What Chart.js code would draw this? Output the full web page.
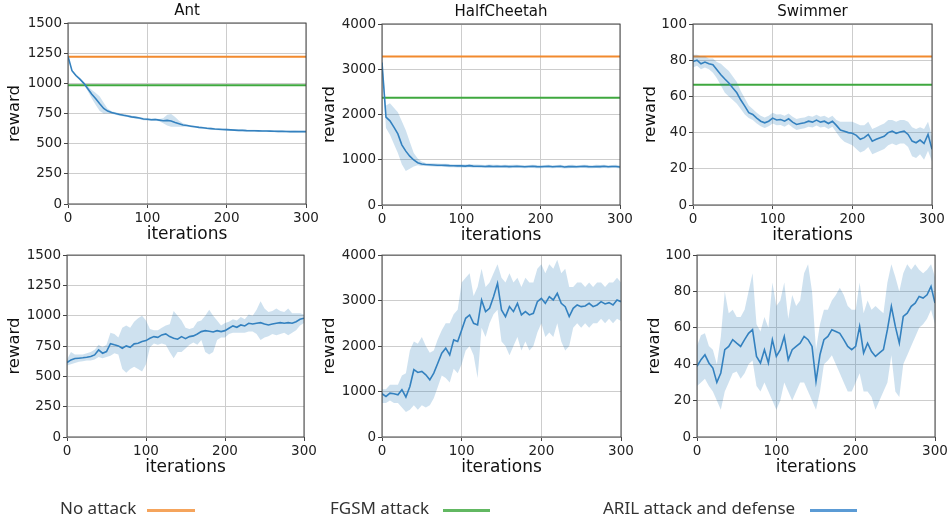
<!DOCTYPE html>
<html>
<head>
<meta charset="utf-8">
<script src="https://cdn.jsdelivr.net/npm/chart.js@4.4.1/dist/chart.umd.min.js"></script>
<style>
  body { margin: 0; background: #fff; width: 948px; height: 518px; overflow: hidden; position: relative; }
  .panel { position: absolute; }
  .legend-text { position: absolute; font-family: "Noto Sans", "Liberation Sans", sans-serif; font-size: 17px; color: #333; line-height: 20px; white-space: nowrap; }
  .legend-line { position: absolute; height: 3px; }
</style>
</head>
<body>
<div class="panel" id="p1"><canvas id="c1"></canvas></div>
<div class="panel" id="p2"><canvas id="c2"></canvas></div>
<div class="panel" id="p3"><canvas id="c3"></canvas></div>
<div class="panel" id="p4"><canvas id="c4"></canvas></div>
<div class="panel" id="p5"><canvas id="c5"></canvas></div>
<div class="panel" id="p6"><canvas id="c6"></canvas></div>

<span class="legend-text" style="left:60px;top:498px">No attack</span>
<div class="legend-line" style="left:147px;top:509px;width:48px;background:#f5a45c"></div>
<span class="legend-text" style="left:330px;top:498px">FGSM attack</span>
<div class="legend-line" style="left:443px;top:509px;width:47px;background:#62b862"></div>
<span class="legend-text" style="left:603px;top:498px">ARIL attack and defense</span>
<div class="legend-line" style="left:810px;top:509px;width:47px;background:#5b9bd5"></div>

<script>
// x positions shared by all series (every 5 iterations)
const iterations = [0,5,10,15,20,25,30,35,40,45,50,55,60,65,70,75,80,85,90,95,100,
  105,110,115,120,125,130,135,140,145,150,155,160,165,170,175,180,185,190,195,200,
  205,210,215,220,225,230,235,240,245,250,255,260,265,270,275,280,285,290,295,300];
const xTicks = [0, 100, 200, 300];

const envNames = ['Ant', 'HalfCheetah', 'Swimmer'];
const yMax = [1500, 4000, 100];
const yStep = [250, 1000, 20];
const noAttack = [1220, 3280, 82];
const fgsmAttack = [985, 2370, 66.5];

// top row: reward under ARIL attack
const antTopMean = [1225,1105,1065,1035,1000,955,910,872,830,792,770,758,750,742,735,730,722,718,712,705,702,698,700,695,690,693,688,675,665,655,650,645,640,635,632,628,625,622,620,618,616,614,612,610,610,608,607,607,606,605,605,604,603,602,602,601,600,601,600,600,600];
const antTopLow = [1215,1095,1055,1025,990,935,875,820,770,750,752,748,740,732,725,720,712,708,702,695,692,688,690,685,670,650,640,640,640,640,642,637,632,627,624,620,617,614,612,610,608,606,604,602,602,600,599,599,598,597,597,596,595,594,594,593,592,593,592,592,592];
const antTopHigh = [1235,1115,1075,1045,1010,975,945,920,890,840,790,768,760,752,745,740,732,728,722,715,712,708,710,705,710,740,745,720,690,670,658,653,648,643,640,636,633,630,628,626,624,622,620,618,618,616,615,615,614,613,613,612,611,610,610,609,608,609,608,608,608];

const hcTopMean = [3150,1940,1860,1720,1570,1330,1190,1080,995,935,905,895,890,885,880,878,875,870,868,865,865,860,870,860,858,855,850,858,852,855,850,855,848,852,855,850,845,850,855,848,845,850,855,845,850,855,840,848,852,845,850,855,848,845,852,848,855,845,850,852,840];
const hcTopLow = [3050,1700,1550,1350,1150,900,750,800,850,880,860,860,855,850,845,843,840,835,833,830,830,825,835,825,823,820,815,823,817,820,815,820,813,817,820,815,810,815,820,813,810,815,820,810,815,820,805,813,817,810,815,820,813,810,817,813,820,810,815,817,805];
const hcTopHigh = [3250,2200,2250,2150,2050,1850,1650,1400,1150,1030,960,930,925,920,915,913,910,905,903,900,900,895,905,895,893,890,885,893,887,890,885,890,883,887,890,885,880,885,890,883,880,885,890,880,885,890,875,883,887,880,885,890,883,880,887,883,890,880,885,887,875];

const swTopMean = [79.3,80,78,79,78,77.5,74.7,72,69.6,67.4,64.6,62,58,54.6,51,50,48,46.3,45.4,46.3,48,47,47.2,46.3,47.6,45.8,44.5,45,45.4,46.3,45.8,46.9,45.8,46.3,45,46.3,44,41.4,40.8,40,39.6,38.5,36.3,37.2,39,35.3,36.3,37.2,38,40,40.8,39.6,40.3,40.8,39,35.3,34.4,35.9,34,39,30.8];
const swTopLow = [76,77,75,76,75,73,70,66,62,60,58,56,53,50,48,47,45,43.5,42.5,43.5,45,44,44.2,43.3,44.6,42.8,41.5,42,42.4,43.3,42.8,43.9,42.8,43.3,42,43.3,40,37,35,34,33,31,29,30,32,28,29,30,31,33,34,33,34,34,32,27,26,28,25,30,24];
const swTopHigh = [83,83,82,82,81,81,79,78,76,74,71,68,63,59,55,53,51,49.3,48.4,49.3,51,50,50.2,49.3,50.6,48.8,47.5,48,48.4,49.3,48.8,49.9,48.8,49.3,48,49.3,47,46,46,46,46,45,44,44,46,42,43,44,45,47,47,46,47,47,46,43,42,43,42,46,38];

// bottom row: reward with ARIL attack and defense
const antBotMean = [614,636,647,650,653,658,664,677,718,691,705,770,760,751,732,751,740,768,773,787,795,814,828,822,842,850,828,814,806,828,811,828,834,850,869,877,872,866,877,869,877,897,916,905,924,916,938,932,938,943,932,924,932,938,943,938,943,938,951,971,979];
const antBotLow = [590,600,610,620,625,630,630,640,660,650,660,670,690,680,560,530,560,580,560,540,600,740,770,760,770,760,700,650,700,700,730,760,780,760,800,700,680,700,800,820,820,850,860,860,860,860,870,870,850,800,820,830,850,840,850,860,840,860,880,920,940];
const antBotHigh = [640,700,680,680,680,690,700,720,760,740,760,860,850,820,900,920,900,950,980,1000,960,890,880,880,900,920,930,1040,1000,960,900,890,900,950,960,1000,1050,1000,960,920,940,950,970,960,990,970,1010,1000,1050,1120,1060,1030,1040,1060,1040,1030,1060,1020,1020,1020,1010];

const hcBotMean = [951,892,965,950,929,1040,880,1111,1480,1419,1441,1367,1258,1404,1623,1843,1953,1806,2135,2099,2355,2611,2684,2501,2464,3013,2757,2830,3086,3378,2794,2647,2867,2757,2940,2684,2757,2684,2720,2976,3050,2940,3086,3013,3159,2940,2867,2647,2830,2903,2867,2881,2940,2867,2903,2976,2925,2954,2903,3013,2976];
const hcBotLow = [750,750,800,750,750,650,550,600,700,600,700,650,700,850,1100,1350,1300,1200,1500,1400,1600,1900,2000,1800,1300,2400,2200,2500,2700,2800,2100,2000,1800,2000,2200,1900,2100,1900,2000,2300,2500,2200,2300,2200,2500,2100,1900,2000,2400,2500,2400,2500,2400,2500,2500,2600,2500,2600,2500,2600,2550];
const hcBotHigh = [1050,1050,1150,1150,1150,1350,1400,1900,2100,2050,2200,2000,1850,1900,2150,2350,2500,2500,2700,2800,3400,3500,3600,3100,3300,3700,3300,3400,3600,3800,3500,3400,3600,3400,3500,3300,3500,3400,3400,3700,3800,3600,3800,3700,3900,3600,3700,3300,3300,3400,3400,3300,3400,3300,3400,3400,3300,3400,3400,3500,3400];

const swBotMean = [38.8,42.5,45.2,40.7,37.9,30,35.2,48,49.8,53.5,51.6,49.8,53.5,57,59,44.3,40.7,48,40.7,53.5,44.3,48,55.3,42.5,48,49.8,51.6,55.3,53.5,49.8,30.6,45.2,53.5,55.3,59,58,57,53.5,49.8,48,49.8,60.8,46.2,51.6,47,44.3,46.2,48,59,71.8,60.8,51.6,66.3,68.1,71.8,73.6,77.3,76.4,78.2,82.8,73.6];
const swBotLow = [28,30,32,28,25,20,15,25,30,35,36,32,35,40,42,28,25,30,25,20,15,20,30,25,20,25,30,30,25,20,15,25,40,42,45,40,35,30,25,25,30,35,25,25,22,15,20,25,30,45,25,22,40,45,50,55,60,62,65,70,62];
const swBotHigh = [50,56,57,50,48,40,55,80,68,70,66,66,70,80,90,62,58,66,60,85,72,75,85,65,78,72,75,90,95,80,48,62,70,70,75,78,82,78,72,70,70,85,68,75,70,72,70,68,85,95,88,80,90,95,92,95,92,90,92,95,88];

const BLUE = '#3a85c2';
const BAND = 'rgba(31,119,180,0.22)';
const ORANGE = '#f28a2e';
const GREEN = '#3fa83f';
const FONT = '"DejaVu Sans", sans-serif';

Chart.defaults.font.family = FONT;
Chart.defaults.color = '#222';

// matplotlib style box around the plot area
const frame = {
  id: 'frame',
  afterDatasetsDraw(chart) {
    const { ctx, chartArea: a } = chart;
    ctx.save();
    ctx.strokeStyle = '#444';
    ctx.lineWidth = 1;
    ctx.strokeRect(a.left, a.top, a.right - a.left, a.bottom - a.top);
    ctx.restore();
  }
};

const pts = arr => iterations.map((x, i) => ({ x: x, y: arr[i] }));
const plain = v => String(v);

// box = where the panel canvas sits; yTitlePad moves the "reward" label
function makePanel(n, env, mean, low, high, showRefs, box, yTitlePad) {
  const div = document.getElementById('p' + n);
  div.style.left = box[0] + 'px';
  div.style.top = box[1] + 'px';
  const canvas = document.getElementById('c' + n);
  canvas.width = box[2];
  canvas.height = box[3];

  const datasets = [
    { data: pts(low), borderWidth: 0, borderColor: 'transparent', pointRadius: 0, fill: false },
    { data: pts(high), borderWidth: 0, borderColor: 'transparent', pointRadius: 0, fill: '-1', backgroundColor: BAND },
    { data: pts(mean), borderColor: BLUE, borderWidth: 1.6, pointRadius: 0, fill: false }
  ];
  if (showRefs) {
    const x0 = xTicks[0], x1 = xTicks[xTicks.length - 1];
    datasets.push({ data: [{ x: x0, y: noAttack[env] }, { x: x1, y: noAttack[env] }], borderColor: ORANGE, borderWidth: 2, pointRadius: 0, fill: false });
    datasets.push({ data: [{ x: x0, y: fgsmAttack[env] }, { x: x1, y: fgsmAttack[env] }], borderColor: GREEN, borderWidth: 2, pointRadius: 0, fill: false });
  }

  new Chart(canvas, {
    type: 'line',
    data: { datasets: datasets },
    plugins: [frame],
    options: {
      responsive: false,
      animation: false,
      layout: { padding: { top: showRefs ? 0 : 10, right: 16, left: 0, bottom: 0 } },
      plugins: {
        legend: { display: false },
        tooltip: { enabled: false },
        title: {
          display: showRefs,
          fullSize: false,
          text: envNames[env],
          color: '#111',
          font: { size: 15, weight: 'normal' },
          padding: { top: 2, bottom: 3 }
        }
      },
      scales: {
        x: {
          type: 'linear',
          min: xTicks[0],
          max: xTicks[xTicks.length - 1],
          ticks: { stepSize: 100, color: '#222', font: { size: 13.5 }, padding: 2, maxRotation: 0, callback: plain },
          grid: { color: '#cdcdcd', tickColor: '#444', tickLength: 4 },
          border: { display: false },
          title: { display: true, text: 'iterations', color: '#111', font: { size: 17 }, padding: { top: 0, bottom: 4 } },
          afterFit: s => { s.height = 45; }
        },
        y: {
          min: 0,
          max: yMax[env],
          ticks: { stepSize: yStep[env], color: '#222', font: { size: 13.5 }, padding: 2, callback: plain },
          grid: { color: '#cdcdcd', tickColor: '#444', tickLength: 4 },
          border: { display: false },
          title: { display: true, text: 'reward', color: '#111', font: { size: 16.5 }, padding: { top: yTitlePad, bottom: 0 } },
          afterFit: s => { s.width = 68; }
        }
      }
    }
  });
}

makePanel(1, 0, antTopMean, antTopLow, antTopHigh, true, [0, 0, 322, 249], 5);
makePanel(2, 1, hcTopMean, hcTopLow, hcTopHigh, true, [314, 1, 322, 249], 6);
makePanel(3, 2, swTopMean, swTopLow, swTopHigh, true, [625, 1, 323, 249], 16);
makePanel(4, 0, antBotMean, antBotLow, antBotHigh, false, [-1, 245, 321, 237], 6);
makePanel(5, 1, hcBotMean, hcBotLow, hcBotHigh, false, [314, 245, 323, 237], 6);
makePanel(6, 2, swBotMean, swBotLow, swBotHigh, false, [629, 245, 322, 237], 16);
</script>
</body>
</html>
